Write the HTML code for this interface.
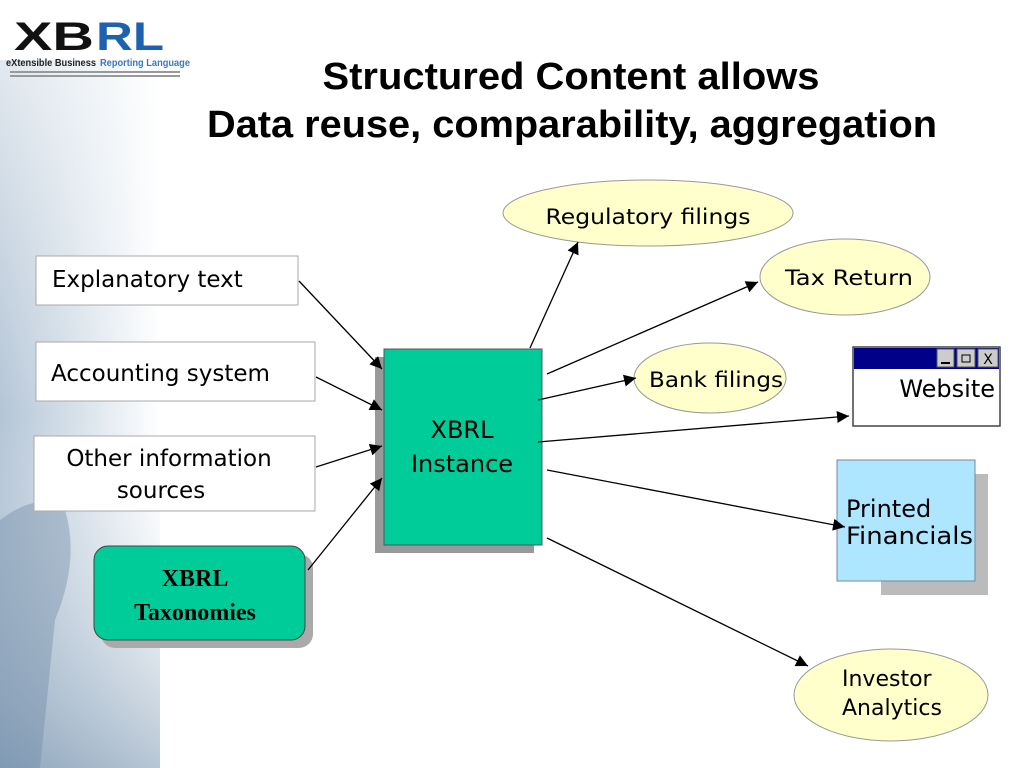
<!DOCTYPE html>
<html><head><meta charset="utf-8"><style>
html,body{margin:0;padding:0;background:#fff;}
svg{display:block}
</style></head><body>
<svg width="1024" height="768" viewBox="0 0 1024 768" xmlns="http://www.w3.org/2000/svg" font-family="DejaVu Sans, Liberation Sans, sans-serif">
<defs>
<linearGradient id="bg" x1="0" y1="0" x2="1" y2="0">
<stop offset="0" stop-color="#b4c5d6"/><stop offset="0.6" stop-color="#e0e8ef"/><stop offset="1" stop-color="#ffffff"/>
</linearGradient>
<linearGradient id="bg2" x1="0" y1="0" x2="0" y2="1">
<stop offset="0" stop-color="#ffffff" stop-opacity="0.6"/><stop offset="0.5" stop-color="#ffffff" stop-opacity="0"/><stop offset="1" stop-color="#5f7f9f" stop-opacity="0.45"/>
</linearGradient>
<marker id="a" viewBox="0 0 10 10" refX="10" refY="5" markerWidth="12" markerHeight="12" markerUnits="userSpaceOnUse" orient="auto"><path d="M0,0 L10,5 L0,10 z" fill="#000"/></marker>
</defs>
<rect x="0" y="60" width="160" height="708" fill="url(#bg)"/>
<rect x="0" y="60" width="160" height="708" fill="url(#bg2)"/>
<path d="M0,520 Q40,490 65,510 Q80,560 55,620 L40,768 L0,768z" fill="#6d8aa6" opacity="0.4"/>
<!-- logo -->
<text x="14" y="50" font-family="Liberation Sans" font-weight="bold" font-size="40" fill="#111" textLength="80" lengthAdjust="spacingAndGlyphs">XB</text>
<text x="96" y="50" font-family="Liberation Sans" font-weight="bold" font-size="40" fill="#1d62b0" textLength="68" lengthAdjust="spacingAndGlyphs">RL</text>
<text x="6" y="66" font-family="Liberation Sans" font-size="10" font-weight="bold" fill="#222" textLength="90" lengthAdjust="spacingAndGlyphs">eXtensible Business</text>
<text x="100" y="66" font-family="Liberation Sans" font-size="10" font-weight="bold" fill="#3a78c0" textLength="90" lengthAdjust="spacingAndGlyphs">Reporting Language</text>
<rect x="10" y="71" width="170" height="2" fill="#999"/><rect x="10" y="75" width="170" height="2" fill="#999"/>
<!-- title -->
<text x="571" y="89" text-anchor="middle" font-family="Liberation Sans" font-weight="bold" font-size="38" textLength="497" lengthAdjust="spacingAndGlyphs">Structured Content allows</text>
<text x="572" y="137" text-anchor="middle" font-family="Liberation Sans" font-weight="bold" font-size="38" textLength="730" lengthAdjust="spacingAndGlyphs">Data reuse, comparability, aggregation</text>
<!-- left boxes -->
<rect x="36" y="256" width="262" height="49" fill="#fff" stroke="#aaa"/>
<text x="52" y="287" font-size="23">Explanatory text</text>
<rect x="36" y="342" width="279" height="59" fill="#fff" stroke="#aaa"/>
<text x="51" y="381" font-size="23">Accounting system</text>
<rect x="34" y="436" width="281" height="75" fill="#fff" stroke="#aaa"/>
<text x="169" y="466" font-size="23" text-anchor="middle">Other information</text>
<text x="161" y="498" font-size="23" text-anchor="middle">sources</text>
<rect x="101" y="554" width="212" height="94" rx="14" fill="#aaa"/>
<rect x="94" y="546" width="211" height="94" rx="14" fill="#00cc99" stroke="#444"/>
<text x="195" y="586" font-family="Liberation Serif" font-weight="bold" font-size="24" text-anchor="middle">XBRL</text>
<text x="195" y="620" font-family="Liberation Serif" font-weight="bold" font-size="24" text-anchor="middle">Taxonomies</text>
<!-- center -->
<rect x="375" y="357" width="159" height="196" fill="#999"/>
<rect x="384" y="349" width="158" height="196" fill="#00cc99" stroke="#555"/>
<text x="462" y="438" font-size="24" text-anchor="middle">XBRL</text>
<text x="462" y="472" font-size="24" text-anchor="middle">Instance</text>
<!-- right nodes -->
<ellipse cx="648" cy="213" rx="145" ry="33" fill="#ffffcc" stroke="#999"/>
<text x="648" y="224" font-size="21" text-anchor="middle" textLength="205" lengthAdjust="spacingAndGlyphs">Regulatory filings</text>
<ellipse cx="845" cy="277" rx="85" ry="38" fill="#ffffcc" stroke="#999"/>
<text x="849" y="285" font-size="21" text-anchor="middle" textLength="128" lengthAdjust="spacingAndGlyphs">Tax Return</text>
<ellipse cx="710" cy="378" rx="76" ry="35" fill="#ffffcc" stroke="#999"/>
<text x="716" y="387" font-size="21" text-anchor="middle" textLength="134" lengthAdjust="spacingAndGlyphs">Bank filings</text>
<rect x="853" y="347" width="147" height="79" fill="#fff" stroke="#444" stroke-width="1.5"/>
<rect x="854" y="348" width="145" height="21" fill="#000088"/>
<rect x="937" y="349" width="17" height="18" fill="#ccc" stroke="#555"/><rect x="941" y="362" width="9" height="2" fill="#000"/>
<rect x="957" y="349" width="18" height="18" fill="#ccc" stroke="#555"/><rect x="962" y="355" width="8" height="7" fill="none" stroke="#000"/>
<rect x="978" y="349" width="20" height="18" fill="#ccc" stroke="#555"/><text x="988" y="364" font-size="14" text-anchor="middle">X</text>
<text x="995" y="397" font-size="24" text-anchor="end">Website</text>
<rect x="881" y="474" width="107" height="121" fill="#bbb"/>
<rect x="837" y="460" width="138" height="121" fill="#aee6ff" stroke="#789"/>
<text x="846" y="517" font-size="24">Printed</text>
<text x="846" y="544" font-size="24" textLength="127" lengthAdjust="spacingAndGlyphs">Financials</text>
<ellipse cx="891" cy="695" rx="97" ry="46" fill="#ffffcc" stroke="#999"/>
<text x="842" y="686" font-size="22">Investor</text>
<text x="842" y="715" font-size="22">Analytics</text>
<!-- arrows -->
<g stroke="#000" stroke-width="1.3" fill="none">
<line x1="299" y1="281" x2="382" y2="369" marker-end="url(#a)"/>
<line x1="316" y1="377" x2="382" y2="410" marker-end="url(#a)"/>
<line x1="316" y1="467" x2="382" y2="446" marker-end="url(#a)"/>
<line x1="308" y1="570" x2="382" y2="478" marker-end="url(#a)"/>
<line x1="530" y1="348" x2="578" y2="242" marker-end="url(#a)"/>
<line x1="547" y1="374" x2="758" y2="282" marker-end="url(#a)"/>
<line x1="538" y1="400" x2="636" y2="378" marker-end="url(#a)"/>
<line x1="538" y1="442" x2="849" y2="416" marker-end="url(#a)"/>
<line x1="547" y1="470" x2="845" y2="527" marker-end="url(#a)"/>
<line x1="547" y1="538" x2="808" y2="666" marker-end="url(#a)"/>
</g>
</svg>
</body></html>
